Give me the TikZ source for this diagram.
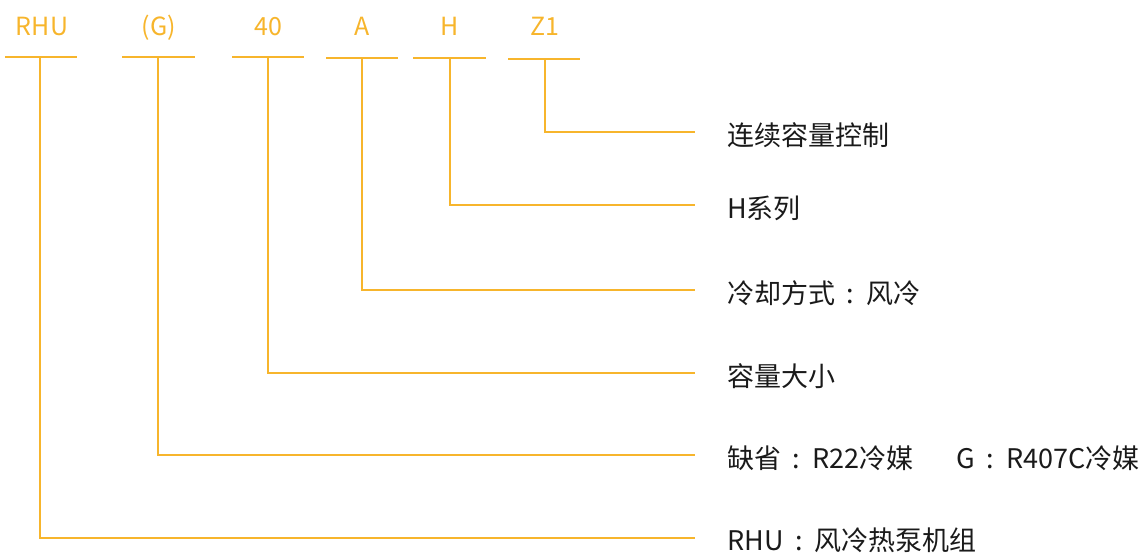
\documentclass[tikz,border=0pt]{standalone}
\usepackage{fontspec}
\setmainfont{Noto Sans CJK SC}
\definecolor{ylw}{HTML}{F7B52C}
\definecolor{txt}{HTML}{1A1A1A}
\newcommand{\cln}{\makebox[1.15em][c]{:}}
\begin{document}
\begin{tikzpicture}[x=1pt,y=-1pt,
  code/.style={text=ylw,font=\fontsize{25}{25}\selectfont,inner sep=0pt,anchor=base},
  desc/.style={text=txt,font=\fontsize{27}{27}\selectfont,inner sep=0pt,anchor=west},
  bar/.style={draw=ylw,line width=1.6pt},
  lead/.style={draw=ylw,line width=1.6pt}]
\useasboundingbox (0,0) rectangle (1144,553);
% top code labels
\node[code] (tRHU) at (42,36) {RHU};
\node[code] (tG) at (159,36) {(G)};
\node[code] (t40) at (268,36) {40};
\node[code] (tA) at (362,36) {A};
\node[code] (tH) at (450,36) {H};
\node[code] (tZ) at (545,36) {Z1};
% bars
\coordinate (b1l) at (5,57); \coordinate (b1r) at (77,57);
\coordinate (b2l) at (122,57); \coordinate (b2r) at (195,57);
\coordinate (b3l) at (232,57); \coordinate (b3r) at (304,57);
\coordinate (b4l) at (326,58); \coordinate (b4r) at (398,58);
\coordinate (b5l) at (413,58); \coordinate (b5r) at (486,58);
\coordinate (b6l) at (508,59); \coordinate (b6r) at (580,59);
\draw[bar] (b1l) -- (b1r);
\draw[bar] (b2l) -- (b2r);
\draw[bar] (b3l) -- (b3r);
\draw[bar] (b4l) -- (b4r);
\draw[bar] (b5l) -- (b5r);
\draw[bar] (b6l) -- (b6r);
% descriptions
\node[desc] (dZ) at (727,135) {连续容量控制};
\node[desc] (dH) at (727,208) {H系列};
\node[desc] (dA) at (727,293) {冷却方式\cln 风冷};
\node[desc] (d40) at (727,376) {容量大小};
\node[desc] (dG) at (727,458) {缺省\cln R22冷媒\hspace{1.6em}G\cln R407C冷媒};
\node[desc] (dRHU) at (727,540) {RHU\cln 风冷热泵机组};
% end points of leads
\coordinate (eZ) at (695,132);
\coordinate (eH) at (695,205);
\coordinate (eA) at (695,290);
\coordinate (e40) at (695,373);
\coordinate (eG) at (695,455);
\coordinate (eRHU) at (695,538);
\draw[lead] (545,59) |- (eZ);
\draw[lead] (450,58) |- (eH);
\draw[lead] (362,58) |- (eA);
\draw[lead] (268,57) |- (e40);
\draw[lead] (158,57) |- (eG);
\draw[lead] (40,57) |- (eRHU);
\end{tikzpicture}
\end{document}
